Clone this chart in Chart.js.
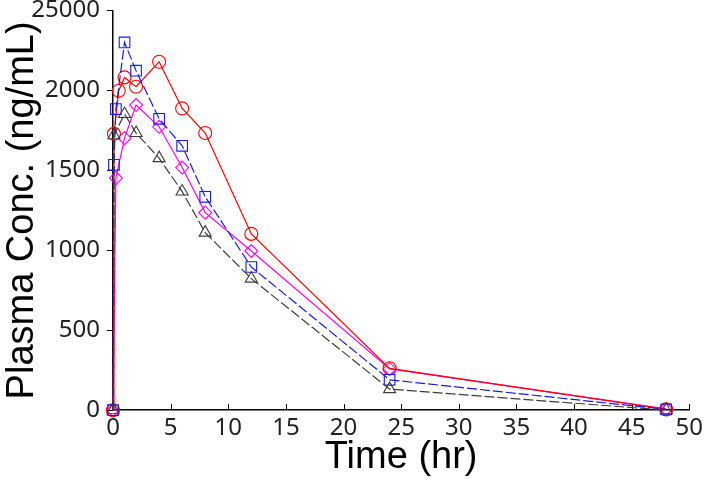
<!DOCTYPE html>
<html>
<head>
<meta charset="utf-8">
<script src="https://cdn.jsdelivr.net/npm/chart.js@4.4.0/dist/chart.umd.min.js"></script>
<style>
  html, body { margin: 0; padding: 0; background: #fff; }
  #wrap { width: 707px; height: 483px; position: relative; }
</style>
</head>
<body>
<div id="wrap"><canvas id="pkChart"></canvas></div>
<script>
// sampling times (hr)
const times = [0, 0.083, 0.25, 0.5, 1, 2, 4, 6, 8, 12, 24, 48];

// plasma concentrations (ng/mL), null = no sample drawn
const redConc     = [0, 1729, null, 1999, 2082, 2024, 2180, 1888, 1734, 1103, 262, 5];
const blueConc    = [0, 1535, 1884, null, 2301, 2124, 1823, 1654, 1335, 896, 190, 5];
const magentaConc = [0, null, 1452, null, 1702, 1909, 1773, 1518, 1236, 996, 258, 8];
const blackConc   = [0, 1720, null, null, 1853, 1734, 1577, 1368, 1111, 823, 132, 0];

const xTicks = [0, 5, 10, 15, 20, 25, 30, 35, 40, 45, 50];
const yTicks = [0, 500, 1000, 1500, 2000, 2500];
const yTickLabels = ["0", "500", "1000", "1500", "2000", "25000"];

const toPoints = (vals) => times.map((t, i) => ({ x: t, y: vals[i] }));

// x-axis tick marks point up into the plot
const upTicks = {
  id: "upTicks",
  beforeDatasetsDraw(chart) {
    const sx = chart.scales.x;
    const ctx = chart.ctx;
    ctx.save();
    ctx.strokeStyle = "#000";
    ctx.lineWidth = 1;
    xTicks.forEach((v) => {
      const px = Math.round(sx.getPixelForValue(v)) + 0.5;
      ctx.beginPath();
      ctx.moveTo(px, sx.top);
      ctx.lineTo(px, sx.top - 6);
      ctx.stroke();
    });
    ctx.restore();
  },
};

const tickFont = { family: "'Noto Sans', sans-serif", size: 24, lineHeight: 0.3 };
const titleFont = { family: "'Liberation Sans', Arial, sans-serif", size: 38, lineHeight: 1.0 };

const series = (label, vals, color, shape, radius, dash) => ({
  label,
  data: toPoints(vals),
  borderColor: color,
  backgroundColor: "rgba(0,0,0,0)",
  borderWidth: 1.2,
  borderDash: dash,
  pointStyle: shape,
  pointRadius: radius,
  pointBorderColor: color,
  pointBackgroundColor: "rgba(0,0,0,0)",
  pointBorderWidth: 1.1,
  spanGaps: true,
  tension: 0,
  clip: false,
});

new Chart(document.getElementById("pkChart").getContext("2d"), {
  type: "line",
  data: {
    datasets: [
      series("Black", blackConc, "#3c3c3c", "triangle", 7, [10, 3]),
      series("Blue", blueConc, "#1a1ae6", "rect", 7.5, [10, 3]),
      series("Red", redConc, "#ff0000", "circle", 6.5, []),
      series("Magenta", magentaConc, "#ff00ff", "rectRot", 6.5, []),
    ],
  },
  options: {
    responsive: true,
    maintainAspectRatio: false,
    animation: false,
    layout: { padding: { left: 0, right: 6, top: 0, bottom: 6 } },
    plugins: {
      legend: { display: false },
      tooltip: { enabled: false },
    },
    scales: {
      x: {
        type: "linear",
        min: 0,
        max: 50,
        afterBuildTicks: (scale) => { scale.ticks = xTicks.map((v) => ({ value: v })); },
        afterFit: (scale) => { scale.height = scale.height - 8; },
        ticks: { font: { ...tickFont, lineHeight: 1.2 }, color: "#222", padding: 4, maxRotation: 0 },
        grid: { drawOnChartArea: false, drawTicks: false },
        border: { color: "#000", width: 1.5 },
        title: { display: true, text: "Time (hr)", font: titleFont, color: "#000", padding: { top: 0, bottom: 0 } },
      },
      y: {
        type: "linear",
        min: 0,
        max: 2500,
        afterBuildTicks: (scale) => { scale.ticks = yTicks.map((v) => ({ value: v })); },
        afterFit: (scale) => { scale.width = 113; },
        ticks: {
          font: tickFont,
          color: "#222",
          padding: 7,
          callback: (v) => yTickLabels[yTicks.indexOf(v)],
        },
        grid: { drawOnChartArea: false, drawTicks: true, tickLength: 6, color: "#000" },
        border: { color: "#000", width: 1.5 },
        title: { display: true, text: "Plasma Conc. (ng/mL)", font: titleFont, color: "#000", padding: { top: 4, bottom: 0 } },
      },
    },
  },
  plugins: [upTicks],
});
</script>
</body>
</html>
